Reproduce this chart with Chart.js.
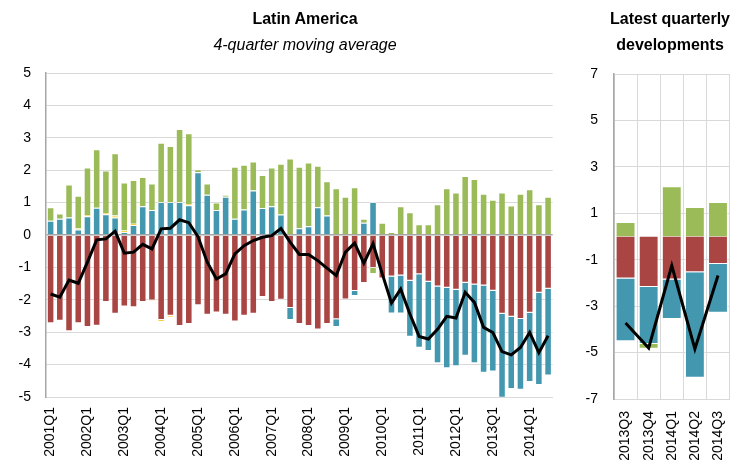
<!DOCTYPE html>
<html><head><meta charset="utf-8">
<script src="https://cdn.jsdelivr.net/npm/chart.js@4.4.1/dist/chart.umd.min.js"></script>
<style>
html,body{margin:0;padding:0;background:#fff;}
#wrap{position:relative;width:747px;height:467px;overflow:hidden;background:#fff;}
.box{position:absolute;top:0;}
.t{position:absolute;font-family:"Liberation Sans",Arial,sans-serif;color:#000;text-align:center;font-size:16px;white-space:nowrap;}
</style></head><body>
<div id="wrap">
<div class="box" style="left:0;width:575px;height:467px;"><canvas id="c1" width="575" height="467"></canvas></div>
<div class="box" style="left:575px;width:172px;height:467px;"><canvas id="c2" width="172" height="467"></canvas></div>
<div class="t" style="left:205px;width:200px;top:10px;font-weight:bold;">Latin America</div>
<div class="t" style="left:155px;width:300px;top:36px;font-style:italic;">4-quarter moving average</div>
<div class="t" style="left:590px;width:160px;top:6px;font-weight:bold;line-height:26px;">Latest quarterly<br>developments</div>
</div>
<script>
// ---- Left panel: 4-quarter moving average ----
const quarters = ["2001Q1","2001Q2","2001Q3","2001Q4","2002Q1","2002Q2","2002Q3","2002Q4",
"2003Q1","2003Q2","2003Q3","2003Q4","2004Q1","2004Q2","2004Q3","2004Q4",
"2005Q1","2005Q2","2005Q3","2005Q4","2006Q1","2006Q2","2006Q3","2006Q4",
"2007Q1","2007Q2","2007Q3","2007Q4","2008Q1","2008Q2","2008Q3","2008Q4",
"2009Q1","2009Q2","2009Q3","2009Q4","2010Q1","2010Q2","2010Q3","2010Q4",
"2011Q1","2011Q2","2011Q3","2011Q4","2012Q1","2012Q2","2012Q3","2012Q4",
"2013Q1","2013Q2","2013Q3","2013Q4","2014Q1","2014Q2","2014Q3"];

const redSeries = [-2.72,-2.65,-2.97,-2.72,-2.84,-2.80,-2.07,-2.43,-2.21,-2.23,-2.07,-2.02,-2.62,-2.49,-2.81,-2.75,
-2.17,-2.46,-2.39,-2.46,-2.67,-2.49,-2.43,-1.91,-2.07,-2.00,-2.25,-2.75,-2.81,-2.92,-2.75,-2.60,
-1.99,-1.73,-1.48,-1.02,-1.34,-1.28,-1.25,-1.41,-1.21,-1.44,-1.59,-1.63,-1.69,-1.47,-1.53,-1.56,
-1.72,-2.43,-2.52,-2.59,-2.40,-1.78,-1.66];

const blueSeries = [0.44,0.50,0.54,0.17,0.58,0.84,0.64,0.54,0.09,0.31,0.89,0.77,1.02,1.02,1.02,0.92,
1.94,1.24,0.77,1.18,0.50,0.79,1.37,0.83,0.89,0.63,-0.37,0.21,0.27,0.86,0.60,-0.24,
0,-0.15,0.38,1.02,0,-1.14,-1.17,-1.73,-2.27,-2.14,-2.37,-2.48,-2.36,-2.26,-2.43,-2.69,
-2.49,-2.59,-2.23,-2.19,-2.14,-2.85,-2.68];

const orangeSeries = [0,0,0,0.03,0.04,0,0.04,0.06,0.05,0.04,0,-0.03,-0.05,-0.05,0,0.04,
0,0,0,0,0,0,0,0,0,0,0,0,0,0,0,0,
0,0,0,0,0,0,0,0,0,0,0,0,0,0,0,0,
0,0,0,0,0,0,0];

const greenSeries = [0.42,0.16,1.02,1.01,1.46,1.81,1.31,1.92,1.48,1.35,0.90,0.82,1.83,1.73,2.25,2.18,
0.09,0.35,0.23,0.06,1.61,1.38,0.90,1.02,1.19,1.57,2.36,1.90,1.97,1.28,1.06,1.44,
1.18,1.47,0.12,-0.18,0.38,0.09,0.89,0.70,0.33,0.33,0.95,1.44,1.31,1.82,1.73,1.27,
1.09,1.31,0.91,1.27,1.41,0.95,1.18];

const totalLine = [-1.82,-1.92,-1.39,-1.49,-0.84,-0.15,-0.12,0.12,-0.56,-0.53,-0.29,-0.43,0.19,0.21,0.47,0.38,
-0.05,-0.84,-1.36,-1.20,-0.58,-0.33,-0.17,-0.07,-0.02,0.20,-0.22,-0.60,-0.60,-0.79,-1.02,-1.25,
-0.53,-0.25,-0.87,-0.27,-1.20,-2.10,-1.67,-2.44,-3.13,-3.21,-2.91,-2.51,-2.56,-1.77,-2.08,-2.85,
-3.01,-3.60,-3.70,-3.47,-3.01,-3.63,-3.11];

const leftTicks = [-5,-4,-3,-2,-1,0,1,2,3,4,5];

// ---- Right panel: latest quarterly developments ----
const latestQuarters = ["2013Q3","2013Q4","2014Q1","2014Q2","2014Q3"];
const latestRed = [-1.81,-2.17,-1.85,-1.54,-1.18];
const latestBlue = [-2.70,-2.46,-1.70,-4.54,-2.10];
const latestOrange = [0,0,0,0,0];
const latestGreen = [0.63,-0.21,2.16,1.27,1.49];
const latestLine = [-3.73,-4.80,-1.25,-4.84,-1.68];

const RED = '#A94543', BLUE = '#4398B0', GREEN = '#9BBB59', ORANGE = '#F5C000';
const FONT = {family:'"Liberation Sans", Arial, sans-serif', size:14};
const GRID = '#D9D9D9', AXIS = '#A6A6A6';

function barSet(label, data, color, bp){
  return {label, data, backgroundColor: color, borderColor: 'rgba(255,255,255,0.45)', borderWidth: 1,
    stack: 's', order: 2, barPercentage: bp, categoryPercentage: 1};
}
function lineSet(data){
  return {type:'line', label:'total', data, borderColor:'#000', borderWidth:3, pointRadius:0,
    tension:0, fill:false, stack:'line', order:0};
}

new Chart(document.getElementById('c1'), {
  type: 'bar',
  data: {
    labels: quarters,
    datasets: [
      barSet('red', redSeries, RED, 0.82),
      barSet('blue', blueSeries, BLUE, 0.82),
      barSet('orange', orangeSeries, ORANGE, 0.82),
      barSet('green', greenSeries, GREEN, 0.82),
      lineSet(totalLine)
    ]
  },
  options: {
    responsive: false, animation: false,
    layout: {padding: {top: 73, right: 12, bottom: 0, left: 0}},
    plugins: {legend: {display: false}, tooltip: {enabled: false}, title: {display: false}},
    scales: {
      x: {
        stacked: true,
        afterFit: s => { s.height = 70; },
        grid: {display: false, drawTicks: false},
        border: {display: true, color: GRID, width: 1},
        ticks: {autoSkip: false, minRotation: 90, maxRotation: 90, padding: 10, color: '#000', font: FONT,
          callback: function(v, i){ const l = quarters[i]; return l.endsWith('Q1') ? l : ''; }}
      },
      y: {
        stacked: true, min: -5, max: 5,
        afterFit: s => { s.width = 46; },
        afterBuildTicks: s => { s.ticks = leftTicks.map(v => ({value: v})); },
        grid: {drawTicks: false, color: c => c.tick && c.tick.value === 0 ? AXIS : GRID, lineWidth: c => c.tick && c.tick.value === 0 ? 1.5 : 1},
        border: {display: true, color: AXIS, width: 1.5},
        ticks: {padding: 15, color: '#000', font: FONT}
      }
    }
  }
});

new Chart(document.getElementById('c2'), {
  type: 'bar',
  data: {
    labels: latestQuarters,
    datasets: [
      barSet('red', latestRed, RED, 0.86),
      barSet('blue', latestBlue, BLUE, 0.86),
      barSet('orange', latestOrange, ORANGE, 0.86),
      barSet('green', latestGreen, GREEN, 0.86),
      lineSet(latestLine)
    ]
  },
  options: {
    responsive: false, animation: false,
    layout: {padding: {top: 74, right: 2, bottom: 0, left: 0}},
    plugins: {legend: {display: false}, tooltip: {enabled: false}, title: {display: false}},
    scales: {
      x: {
        stacked: true, offset: true,
        afterFit: s => { s.height = 68; },
        grid: {display: true, drawTicks: false, color: GRID, offset: true},
        border: {display: true, color: GRID, width: 1},
        ticks: {autoSkip: false, minRotation: 90, maxRotation: 90, padding: 12, color: '#000', font: FONT}
      },
      y: {
        stacked: true, min: -7, max: 7,
        afterFit: s => { s.width = 39; },
        ticks: {stepSize: 2, padding: 16, color: '#000', font: FONT},
        grid: {drawTicks: false, color: c => c.tick && c.tick.value === 0 ? AXIS : GRID, lineWidth: c => c.tick && c.tick.value === 0 ? 1.5 : 1},
        border: {display: true, color: AXIS, width: 1.5}
      }
    }
  }
});
</script>
</body></html>
